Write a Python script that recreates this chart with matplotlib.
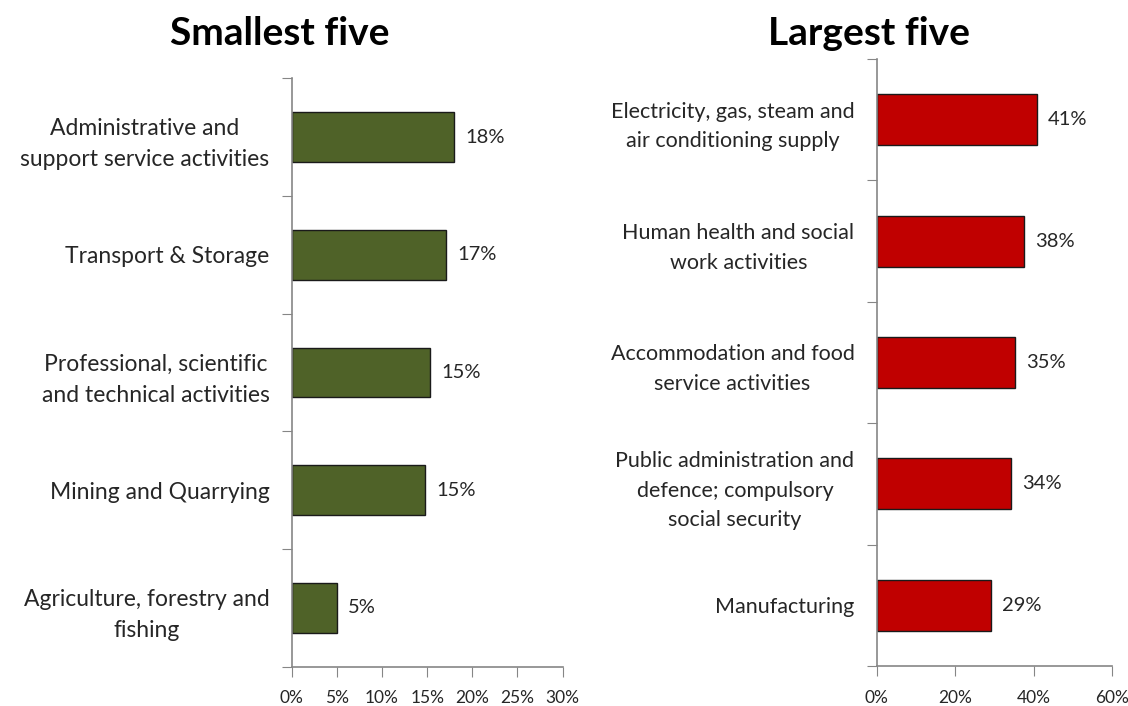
import matplotlib.pyplot as plt
from matplotlib.ticker import FuncFormatter

# smallest five sectors
small_labels = ["Administrative and\nsupport service activities",
                "Transport & Storage",
                "Professional, scientific\nand technical activities",
                "Mining and Quarrying",
                "Agriculture, forestry and\nfishing"]
small_values = [18.0, 17.1, 15.3, 14.8, 5.0]

# largest five sectors
large_labels = ["Electricity, gas, steam and\nair conditioning supply",
                "Human health and social\nwork activities",
                "Accommodation and food\nservice activities",
                "Public administration and\ndefence; compulsory\nsocial security",
                "Manufacturing"]
large_values = [40.8, 37.6, 35.1, 34.1, 29.1]

plt.rcParams['font.family'] = ['Lato', 'DejaVu Sans']

SPINE = '#868686'
TEXT = '#262626'


def hbar(ax, labels, values, color, xmax, step, label_size):
    n = len(values)
    pos = list(range(n))
    ax.barh(pos, values, height=0.42, color=color, edgecolor='#1a1a1a', linewidth=1.0)
    for p, v in zip(pos, values):
        ax.annotate(f"{v:.0f}%", (v, p), xytext=(8, 0), textcoords='offset points',
                    va='center', ha='left', fontsize=14.5, color=TEXT)
    ax.set_xlim(0, xmax)
    ax.set_ylim(n - 0.5, -0.5)
    ax.set_xticks(range(0, xmax + 1, step))
    ax.xaxis.set_major_formatter(FuncFormatter(lambda x, _: f"{x:.0f}%"))
    # category boundaries get the tick marks, names sit between them
    ax.set_yticks([i - 0.5 for i in range(n + 1)])
    ax.set_yticklabels([])
    ax.set_yticks(pos, minor=True)
    ax.set_yticklabels(labels, minor=True, fontsize=label_size, color=TEXT,
                       multialignment='center', linespacing=1.6)
    ax.tick_params(axis='y', which='major', length=7, color=SPINE, direction='out')
    ax.tick_params(axis='y', which='minor', length=0, pad=16)
    ax.tick_params(axis='x', length=7, color=SPINE, direction='out',
                   labelsize=12.5, labelcolor=TEXT, pad=10)
    for s in ['top', 'right']:
        ax.spines[s].set_visible(False)
    for s in ['left', 'bottom']:
        ax.spines[s].set_color(SPINE)
        ax.spines[s].set_linewidth(1.2)


fig = plt.figure(figsize=(11.28, 7.06), dpi=100)
ax1 = fig.add_axes([0.2586, 0.0557, 0.2402, 0.8334])
ax2 = fig.add_axes([0.7772, 0.0567, 0.2089, 0.8598])

hbar(ax1, small_labels, small_values, '#4F6228', 30, 5, 16.5)
hbar(ax2, large_labels, large_values, '#C00000', 60, 20, 15.5)

fig.text(0.248, 0.953, "Smallest five", ha='center', va='center',
         fontsize=28, fontweight='bold', color='black')
fig.text(0.770, 0.953, "Largest five", ha='center', va='center',
         fontsize=28, fontweight='bold', color='black')

fig.savefig('out.png', dpi=100)
